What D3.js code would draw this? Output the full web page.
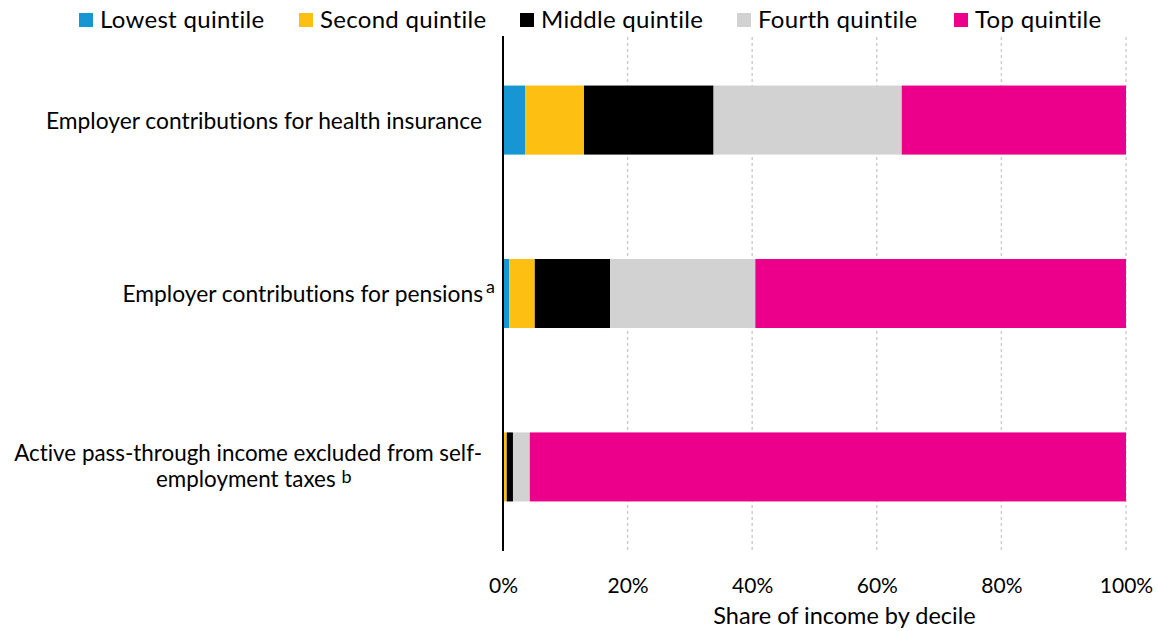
<!DOCTYPE html>
<html>
<head>
<meta charset="utf-8">
<script src="https://cdn.jsdelivr.net/npm/d3@7"></script>
<style>
  body { margin: 0; background: #fff; }
  svg text { font-family: Lato, "Open Sans", sans-serif; fill: #000; font-variant-ligatures: none; font-feature-settings: "liga" 0; }
</style>
</head>
<body>
<svg id="chart" width="1158" height="631"></svg>
<script>
// Categories (top to bottom)
const categories = [
    "Employer contributions for health insurance",
    "Employer contributions for pensions",
    "Active pass-through income excluded from self-employment taxes"
];

// Quintile series
const quintiles = ["Lowest quintile", "Second quintile", "Middle quintile", "Fourth quintile", "Top quintile"];
const colors = ["#1696d2", "#fdbf11", "#000000", "#d2d2d2", "#ec008b"];

// Share (%) of each category by quintile
const lowestQ = [3.6, 1.0, 0.1];
const secondQ = [9.4, 4.1, 0.5];
const middleQ = [20.8, 12.1, 1.0];
const fourthQ = [30.2, 23.3, 2.7];
const topQ = [36.0, 59.5, 95.7];

const ticks = [0, 20, 40, 60, 80, 100];

// Build a table the stack generator can use
const table = categories.map((c, i) => ({
    category: c,
    "Lowest quintile": lowestQ[i],
    "Second quintile": secondQ[i],
    "Middle quintile": middleQ[i],
    "Fourth quintile": fourthQ[i],
    "Top quintile": topQ[i]
}));

const svg = d3.select("#chart");
const margin = {left: 503, right: 32, top: 37, bottom: 81};
const width = 1158 - margin.left - margin.right;
const height = 631 - margin.top - margin.bottom;

const x = d3.scaleLinear().domain([0, 100]).range([margin.left, margin.left + width]);
const y = d3.scaleBand().domain(categories).range([margin.top, margin.top + height]).paddingInner(0.602).paddingOuter(0.28);
const color = d3.scaleOrdinal().domain(quintiles).range(colors);

// Dotted gridlines
svg.append("g")
    .selectAll("line")
    .data(ticks.filter(t => t > 0))
    .enter().append("line")
    .attr("x1", d => x(d)).attr("x2", d => x(d))
    .attr("y1", margin.top).attr("y2", margin.top + height)
    .attr("stroke", "#cfcfcf")
    .attr("stroke-width", 1.5)
    .attr("stroke-dasharray", "3,3");

// Stacked bars
const stacked = d3.stack().keys(quintiles)(table);
svg.append("g")
    .selectAll("g")
    .data(stacked)
    .enter().append("g")
    .attr("fill", d => color(d.key))
    .selectAll("rect")
    .data(d => d)
    .enter().append("rect")
    .attr("x", d => x(d[0]))
    .attr("width", d => x(d[1]) - x(d[0]))
    .attr("y", d => y(d.data.category))
    .attr("height", y.bandwidth());

// Bottom axis tick labels
const xAxis = d3.axisBottom(x)
    .tickValues(ticks)
    .tickFormat(d => d + "%")
    .tickSize(0)
    .tickPadding(28);
const gx = svg.append("g")
    .attr("transform", `translate(0,${margin.top + height})`)
    .call(xAxis);
gx.select(".domain").remove();
gx.selectAll("text").style("font-size", "21px").style("font-family", "Lato, sans-serif").attr("fill", "#000");

// Vertical zero line
svg.append("line")
    .attr("x1", x(0)).attr("x2", x(0))
    .attr("y1", margin.top - 1).attr("y2", margin.top + height + 1)
    .attr("stroke", "#000")
    .attr("stroke-width", 2);

// Axis title
svg.append("text")
    .attr("x", x(50) + 30)
    .attr("y", 624)
    .attr("text-anchor", "middle")
    .style("font-size", "23.5px")
    .text("Share of income by decile");

// Category labels
const labelX = 482;
const cy = c => y(c) + y.bandwidth() / 2;

svg.append("text")
    .attr("x", labelX).attr("y", cy(categories[0]) + 8.5)
    .attr("text-anchor", "end")
    .style("font-size", "22.8px")
    .text(categories[0]);

const l2 = svg.append("text")
    .attr("x", 495).attr("y", cy(categories[1]) + 8.5)
    .attr("text-anchor", "end")
    .style("font-size", "22.8px");
l2.append("tspan").text(categories[1]);
l2.append("tspan").attr("dx", 3).attr("dy", -9).style("font-size", "18px").text("a");

const line1 = "Active pass-through income excluded from self-";
const line2 = "employment taxes";
svg.append("text")
    .attr("x", labelX).attr("y", cy(categories[2]) - 6)
    .attr("text-anchor", "end")
    .style("font-size", "22.4px")
    .text(line1);
const t3b = svg.append("text")
    .attr("x", 156).attr("y", cy(categories[2]) + 20)
    .attr("text-anchor", "start")
    .style("font-size", "22.4px");
t3b.append("tspan").text(line2);
t3b.append("tspan").attr("dx", 6).attr("dy", -4).style("font-size", "18px").text("b");

// Legend
const legendX = [79, 299, 520, 737, 954];
const legend = svg.append("g")
    .selectAll("g")
    .data(quintiles)
    .enter().append("g")
    .attr("transform", (d, i) => `translate(${legendX[i]},0)`);
legend.append("rect")
    .attr("x", 0).attr("y", 13)
    .attr("width", 14).attr("height", 14)
    .attr("fill", d => color(d));
legend.append("text")
    .attr("x", 21).attr("y", 28)
    .style("font-size", "24px")
    .style("letter-spacing", "0.3px")
    .text(d => d);
</script>
</body>
</html>
